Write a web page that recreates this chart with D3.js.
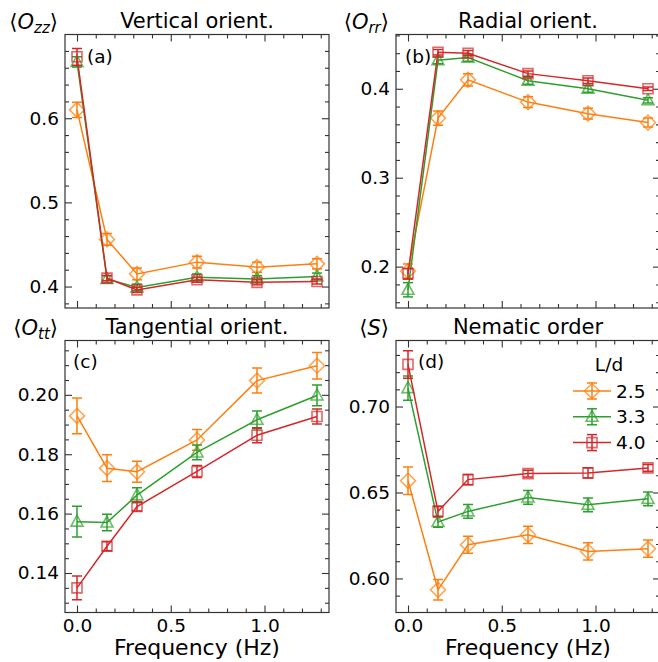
<!DOCTYPE html>
<html>
<head>
<meta charset="utf-8">
<script src="https://cdn.jsdelivr.net/npm/d3@7"></script>
<style>
  html, body { margin: 0; padding: 0; background: #fff; }
  svg { display: block; font-family: "DejaVu Sans", sans-serif; }
</style>
</head>
<body>
<svg id="chart" width="658" height="662"></svg>
<script>
// ---------------- data ----------------
const freq = [0, 0.16, 0.32, 0.64, 0.96, 1.28];
const seriesNames = ["2.5", "3.3", "4.0"];
const seriesColors = ["#ff7f0e", "#2ca02c", "#d62728"];
const seriesMarkers = ["diamond", "triangle", "square"];

// (a) vertical orientation <O_zz>
const ozz25 = [0.610, 0.456, 0.415, 0.429, 0.423, 0.427];
const ozz33 = [0.667, 0.409, 0.399, 0.411, 0.409, 0.412];
const ozz40 = [0.673, 0.410, 0.396, 0.408, 0.405, 0.406];
const ozz25Err = [0.009, 0.007, 0.007, 0.007, 0.006, 0.006];
const ozz33Err = [0.006, 0.004, 0.004, 0.004, 0.004, 0.004];
const ozz40Err = [0.010, 0.003, 0.003, 0.003, 0.003, 0.003];

// (b) radial orientation <O_rr>
const orr25 = [0.195, 0.367, 0.410, 0.385, 0.372, 0.362];
const orr33 = [0.174, 0.432, 0.435, 0.409, 0.400, 0.387];
const orr40 = [0.192, 0.441, 0.440, 0.417, 0.409, 0.400];
const orr25Err = [0.008, 0.008, 0.007, 0.006, 0.006, 0.005];
const orr33Err = [0.008, 0.004, 0.004, 0.004, 0.004, 0.003];
const orr40Err = [0.006, 0.003, 0.003, 0.003, 0.003, 0.002];

// (c) tangential orientation <O_tt>
const ott25 = [0.1929, 0.1753, 0.1741, 0.1848, 0.2048, 0.2098];
const ott33 = [0.1573, 0.1570, 0.1662, 0.1806, 0.1916, 0.1998];
const ott40 = [0.1350, 0.1490, 0.1624, 0.1742, 0.1864, 0.1927];
const ott25Err = [0.0060, 0.0045, 0.0035, 0.0035, 0.0042, 0.0045];
const ott33Err = [0.0052, 0.0028, 0.0025, 0.0025, 0.0030, 0.0035];
const ott40Err = [0.0040, 0.0015, 0.0015, 0.0020, 0.0025, 0.0025];

// (d) nematic order <S>
const s25 = [0.6568, 0.5934, 0.6196, 0.6254, 0.6157, 0.6173];
const s33 = [0.7107, 0.6328, 0.6390, 0.6471, 0.6428, 0.6463];
const s40 = [0.7245, 0.6390, 0.6575, 0.6610, 0.6614, 0.6643];
const s25Err = [0.008, 0.006, 0.005, 0.005, 0.005, 0.005];
const s33Err = [0.007, 0.003, 0.004, 0.004, 0.004, 0.004];
const s40Err = [0.008, 0.003, 0.003, 0.002, 0.003, 0.002];

// tick definitions
const xMajorTicks = [0, 0.5, 1.0];
const xMinorTicks = [0.1, 0.2, 0.3, 0.4, 0.6, 0.7, 0.8, 0.9, 1.1, 1.2, 1.3];
const xTickLabels = ["0.0", "0.5", "1.0"];

const panels = [
  { title: "Vertical orient.", tag: "(a)", ylab: ["O", "zz"], vals: [ozz25, ozz33, ozz40], errs: [ozz25Err, ozz33Err, ozz40Err],
    yDomain: [0.3745, 0.6995], yMajor: [0.4, 0.5, 0.6], yMinorStep: 0.02, yFmt: ".1f", col: 0, row: 0, tagPos: [87, 63] },
  { title: "Radial orient.", tag: "(b)", ylab: ["O", "rr"], vals: [orr25, orr33, orr40], errs: [orr25Err, orr33Err, orr40Err],
    yDomain: [0.1535, 0.461], yMajor: [0.2, 0.3, 0.4], yMinorStep: 0.02, yFmt: ".1f", col: 1, row: 0, tagPos: [405, 63] },
  { title: "Tangential orient.", tag: "(c)", ylab: ["O", "tt"], vals: [ott25, ott33, ott40], errs: [ott25Err, ott33Err, ott40Err],
    yDomain: [0.1267, 0.2183], yMajor: [0.14, 0.16, 0.18, 0.20], yMinorStep: 0.005, yFmt: ".2f", col: 0, row: 1, tagPos: [73, 368] },
  { title: "Nematic order", tag: "(d)", ylab: ["S", null], vals: [s25, s33, s40], errs: [s25Err, s33Err, s40Err],
    yDomain: [0.5802, 0.7384], yMajor: [0.60, 0.65, 0.70], yMinorStep: 0.01, yFmt: ".2f", col: 1, row: 1, tagPos: [418, 368], legend: true }
];

// ---------------- layout ----------------
const colX = [[65, 329], [396, 660]];
const rowY = [[34.5, 308], [340.5, 612.5]];
const axisColor = "#333";
const svg = d3.select("#chart");

function markerPath(type) {
  if (type === "diamond") return "M0,-7.5L7.5,0L0,7.5L-7.5,0Z";
  if (type === "triangle") return "M0,-6.5L6,4.5L-6,4.5Z";
  return "M-5,-5L5,-5L5,5L-5,5Z";
}

function drawSeries(g, xs, ys, vals, errs, color, marker) {
  const line = d3.line().x((d, i) => xs(freq[i])).y(d => ys(d));
  g.append("path").attr("d", line(vals)).attr("fill", "none")
    .attr("stroke", color).attr("stroke-width", 1.5);
  vals.forEach((v, i) => {
    const x = xs(freq[i]);
    const y0 = ys(v - errs[i]), y1 = ys(v + errs[i]);
    g.append("line").attr("x1", x).attr("x2", x).attr("y1", y0).attr("y2", y1)
      .attr("stroke", color).attr("stroke-width", 1.5);
    [y0, y1].forEach(yy => g.append("line").attr("x1", x - 5).attr("x2", x + 5)
      .attr("y1", yy).attr("y2", yy).attr("stroke", color).attr("stroke-width", 1.5));
    g.append("path").attr("d", markerPath(marker)).attr("transform", `translate(${x},${ys(v)})`)
      .attr("fill", "none").attr("stroke", color).attr("stroke-opacity", 0.7).attr("stroke-width", 1.6);
  });
}

panels.forEach(p => {
  const [x0, x1] = colX[p.col];
  const [y0, y1] = rowY[p.row];
  const xs = d3.scaleLinear().domain([-0.064, 1.344]).range([x0, x1]);
  const ys = d3.scaleLinear().domain(p.yDomain).range([y1, y0]);
  const g = svg.append("g");

  const clipId = "clip" + p.tag.replace(/[()]/g, "");
  svg.append("clipPath").attr("id", clipId).append("rect")
    .attr("x", x0).attr("y", y0).attr("width", x1 - x0).attr("height", y1 - y0);

  const yMinor = d3.range(Math.ceil(p.yDomain[0] / p.yMinorStep) * p.yMinorStep, p.yDomain[1], p.yMinorStep)
    .filter(t => !p.yMajor.some(m => Math.abs(m - t) < 1e-6));

  const fmt = d3.format(p.yFmt);
  const axes = [
    { gen: d3.axisBottom(xs).tickValues(xMajorTicks).tickSize(-7).tickFormat(p.row === 1 ? (d, i) => xTickLabels[i] : () => ""), t: `translate(0,${y1})` },
    { gen: d3.axisBottom(xs).tickValues(xMinorTicks).tickSize(-4).tickFormat(() => ""), t: `translate(0,${y1})` },
    { gen: d3.axisTop(xs).tickValues(xMajorTicks).tickSize(-7).tickFormat(() => ""), t: `translate(0,${y0})` },
    { gen: d3.axisTop(xs).tickValues(xMinorTicks).tickSize(-4).tickFormat(() => ""), t: `translate(0,${y0})` },
    { gen: d3.axisLeft(ys).tickValues(p.yMajor).tickSize(-7).tickFormat(fmt), t: `translate(${x0},0)` },
    { gen: d3.axisLeft(ys).tickValues(yMinor).tickSize(-4).tickFormat(() => ""), t: `translate(${x0},0)` },
    { gen: d3.axisRight(ys).tickValues(p.yMajor).tickSize(-7).tickFormat(() => ""), t: `translate(${x1},0)` },
    { gen: d3.axisRight(ys).tickValues(yMinor).tickSize(-4).tickFormat(() => ""), t: `translate(${x1},0)` }
  ];
  axes.forEach(a => {
    const ag = g.append("g").attr("transform", a.t).call(a.gen.tickSizeOuter(0).tickPadding(6));
    ag.select(".domain").remove();
    ag.selectAll(".tick line").attr("stroke", axisColor).attr("stroke-width", 1.1);
    ag.selectAll(".tick text").attr("fill", "#000").attr("font-size", 18.5)
      .attr("font-family", "DejaVu Sans");
  });
  g.append("rect").attr("x", x0).attr("y", y0).attr("width", x1 - x0).attr("height", y1 - y0)
    .attr("fill", "none").attr("stroke", axisColor).attr("stroke-width", 1.2);

  const dg = svg.append("g").attr("clip-path", `url(#${clipId})`);
  p.vals.forEach((vals, k) => drawSeries(dg, xs, ys, vals, p.errs[k], seriesColors[k], seriesMarkers[k]));

  svg.append("text").attr("x", (x0 + x1) / 2).attr("y", y0 - 6.5).attr("text-anchor", "middle")
    .attr("font-size", 21).text(p.title);

  const yl = svg.append("text").attr("x", x0 - 7).attr("y", y0 - 6).attr("text-anchor", "end").attr("font-size", 21);
  yl.append("tspan").text("\u27E8");
  yl.append("tspan").attr("font-style", "italic").text(p.ylab[0]);
  if (p.ylab[1]) {
    yl.append("tspan").attr("font-style", "italic").attr("font-size", 15).attr("dy", 4).text(p.ylab[1]);
    yl.append("tspan").attr("dy", -4).text("\u27E9");
  } else {
    yl.append("tspan").text("\u27E9");
  }

  svg.append("text").attr("x", p.tagPos[0]).attr("y", p.tagPos[1]).attr("font-size", 18.5).text(p.tag);

  if (p.row === 1) {
    svg.append("text").attr("x", (x0 + x1) / 2).attr("y", 655).attr("text-anchor", "middle")
      .attr("font-size", 22).text("Frequency (Hz)");
  }

  if (p.legend) {
    svg.append("text").attr("x", 609).attr("y", 371).attr("text-anchor", "middle")
      .attr("font-size", 18.5).text("L/d");
    seriesNames.forEach((name, k) => {
      const ly = 391 + k * 25.8;
      const lx = 592;
      const c = seriesColors[k];
      svg.append("line").attr("x1", 573).attr("x2", 611).attr("y1", ly).attr("y2", ly)
        .attr("stroke", c).attr("stroke-width", 1.5);
      svg.append("line").attr("x1", lx).attr("x2", lx).attr("y1", ly - 8).attr("y2", ly + 8)
        .attr("stroke", c).attr("stroke-width", 1.5);
      [ly - 8, ly + 8].forEach(yy => svg.append("line").attr("x1", lx - 5).attr("x2", lx + 5)
        .attr("y1", yy).attr("y2", yy).attr("stroke", c).attr("stroke-width", 1.5));
      svg.append("path").attr("d", markerPath(seriesMarkers[k])).attr("transform", `translate(${lx},${ly})`)
        .attr("fill", "none").attr("stroke", c).attr("stroke-opacity", 0.7).attr("stroke-width", 1.6);
      svg.append("text").attr("x", 616).attr("y", ly + 6.5).attr("font-size", 18.5).text(name);
    });
  }
});
</script>
</body>
</html>
